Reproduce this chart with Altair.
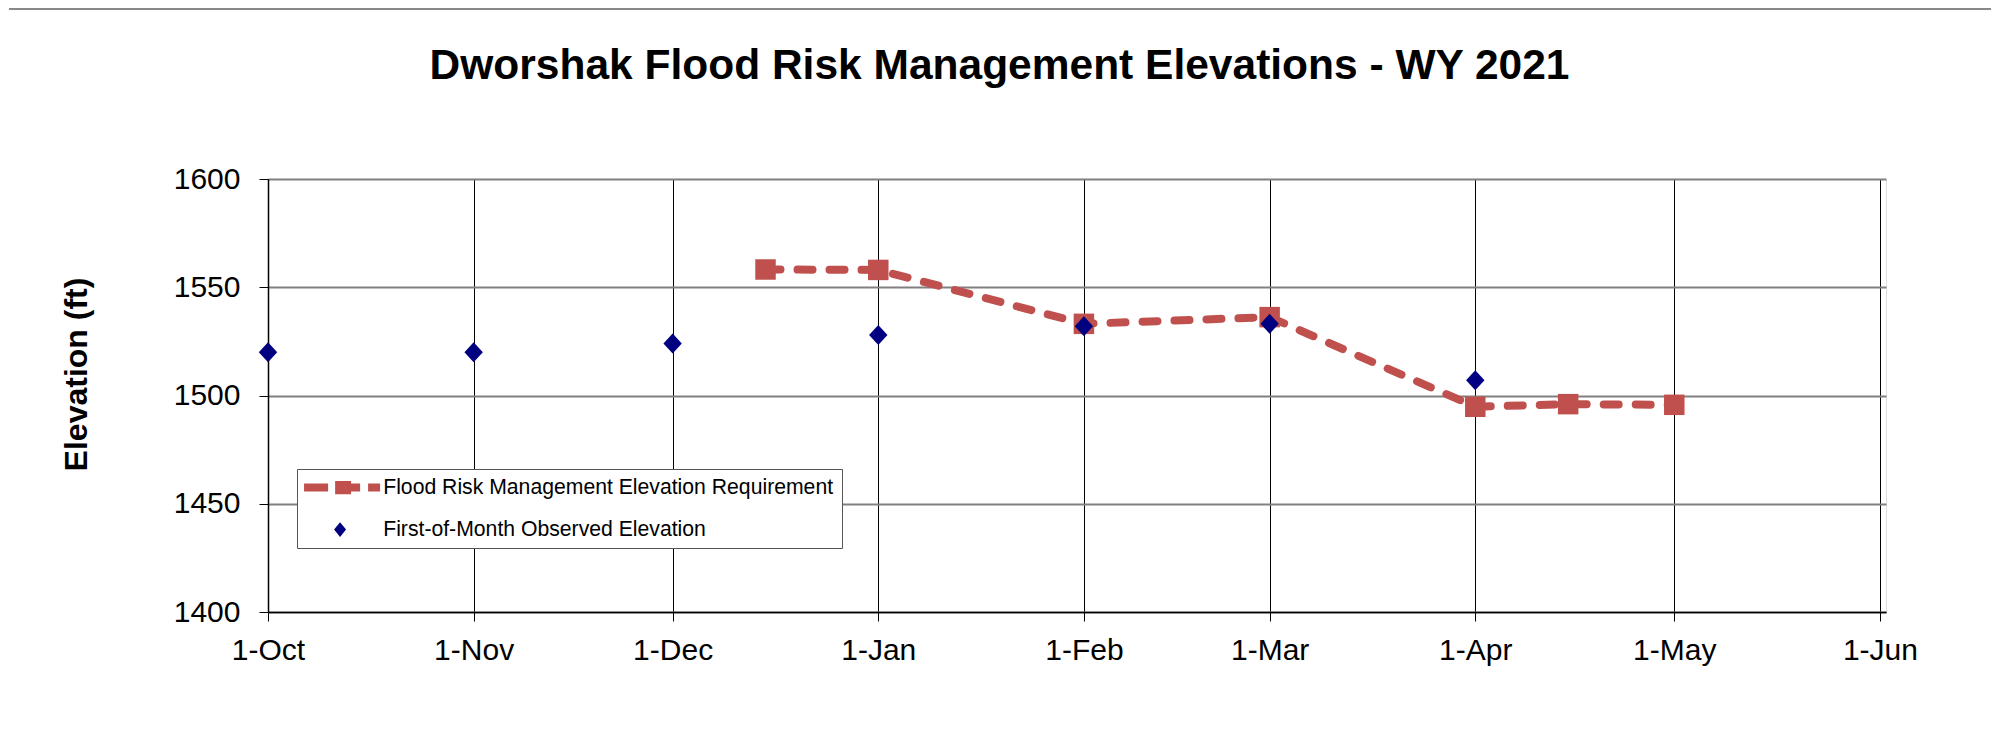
import altair as alt
import pandas as pd

TITLE = "Dworshak Flood Risk Management Elevations - WY 2021"
Y_TITLE = "Elevation (ft)"
FRM_LABEL = "Flood Risk Management Elevation Requirement"
OBS_LABEL = "First-of-Month Observed Elevation"

frm_dates = ["2020-12-15T00:00:00", "2021-01-01T00:00:00", "2021-02-01T00:00:00",
             "2021-03-01T00:00:00", "2021-04-01T00:00:00", "2021-04-15T00:00:00",
             "2021-05-01T00:00:00"]
frm_values = [1558.2, 1558.0, 1533.1, 1536.2, 1494.8, 1496.0, 1495.7]

obs_dates = ["2020-10-01T00:00:00", "2020-11-01T00:00:00", "2020-12-01T00:00:00",
             "2021-01-01T00:00:00", "2021-02-01T00:00:00", "2021-03-01T00:00:00",
             "2021-04-01T00:00:00"]
obs_values = [1520.0, 1520.0, 1524.0, 1528.0, 1532.0, 1533.1, 1507.0]

month_ticks = [(2020, 10), (2020, 11), (2020, 12), (2021, 1), (2021, 2),
               (2021, 3), (2021, 4), (2021, 5), (2021, 6)]
y_ticks = [1400, 1450, 1500, 1550, 1600]
legend_entries = [FRM_LABEL, OBS_LABEL]

FRM_COLOR = "#C0504D"
OBS_COLOR = "#000080"

PLOT_W, PLOT_H = 1618, 433
PAD_L, PAD_T = 260, 171

frm_df = pd.DataFrame({"date": frm_dates, "elev": frm_values})
obs_df = pd.DataFrame({"date": obs_dates, "elev": obs_values})
legend_df = pd.DataFrame({"entry": legend_entries})

x_scale = alt.Scale(domain=[alt.DateTime(year=2020, month=10, date=1),
                            alt.DateTime(year=2021, month=6, date=1, hours=22)])
y_scale = alt.Scale(domain=[1400, 1600], nice=False, zero=False)

x_axis = alt.Axis(
    values=[alt.DateTime(year=y, month=m, date=1) for y, m in month_ticks],
    format="%-d-%b", title=None, labelFont="Liberation Sans", labelFontSize=30,
    labelColor="black", labelPadding=14, tickSize=9, tickColor="black",
    domainColor="black", domainWidth=1.5, grid=True, gridColor="black",
    gridWidth=1, labelFlush=False, labelOverlap=False)
y_axis = alt.Axis(
    values=y_ticks, format="d", title=Y_TITLE, titleFont="Liberation Sans",
    titleFontSize=32, titleFontWeight="bold", titleColor="black", titleAngle=270,
    titleX=-192, titleY=195, titleAlign="center", titleBaseline="middle",
    labelFont="Liberation Sans", labelFontSize=30, labelColor="black",
    labelPadding=19, tickSize=9, tickColor="black", domainColor="black",
    domainWidth=1.5, grid=True, gridColor="#808080", gridWidth=2)

x_enc = alt.X("date:T", scale=x_scale, axis=x_axis)
y_enc = alt.Y("elev:Q", scale=y_scale, axis=y_axis)

# shape used for the observed points in the plot (custom diamond, slightly taller than wide)
PLOT_DIAMOND = "M0,-1L0.92,0L0,1L-0.92,0Z"
# legend symbols (unit = 10.5 px, drawn to the right of the symbol origin)
LEG_FRM = ("M-1.1,-0.38H1.19V0.38H-1.1Z M1.86,-0.64H3.38V0.64H1.86Z "
           "M3.38,-0.38H4.24V0.38H3.38Z M5.0,-0.38H6.14V0.38H5.0Z")
LEG_DIAMOND = "M2.33,-0.71L2.9,0L2.33,0.71L1.76,0Z"

line = alt.Chart(frm_df).mark_line(
    color=FRM_COLOR, strokeWidth=8, strokeDash=[15, 17], strokeCap="round"
).encode(x=x_enc, y=y_enc)

squares = alt.Chart(frm_df).mark_square(
    color=FRM_COLOR, size=420, opacity=1
).encode(x=x_enc, y=y_enc)

points = alt.Chart(obs_df).mark_point(
    filled=True, shape=PLOT_DIAMOND, size=400, color=OBS_COLOR, opacity=1
).encode(x=x_enc, y=y_enc)

leg_kwargs = dict(title=None, orient="none", legendX=29, legendY=290,
                  padding=8, fillColor="white", strokeColor="#555555",
                  labelFont="Liberation Sans", labelFontSize=21.2,
                  labelColor="black", labelOffset=57, rowPadding=20,
                  symbolSize=441, symbolStrokeWidth=0,
                  symbolOpacity=1, labelLimit=0)

legend_layer = alt.Chart(legend_df).mark_point(filled=True, opacity=0).encode(
    color=alt.Color("entry:N",
                    scale=alt.Scale(domain=legend_entries, range=[FRM_COLOR, OBS_COLOR]),
                    legend=alt.Legend(**leg_kwargs)),
    shape=alt.Shape("entry:N",
                    scale=alt.Scale(domain=legend_entries, range=[LEG_FRM, LEG_DIAMOND]),
                    legend=alt.Legend(**leg_kwargs)),
)

title_df = pd.DataFrame({"t": [TITLE]})
title = alt.Chart(title_df).mark_text(
    font="Liberation Sans", fontSize=42.5, fontWeight="bold", color="black",
    align="center", baseline="alphabetic"
).encode(text="t:N", x=alt.value(731.5), y=alt.value(-100))

frame_df = pd.DataFrame({"k": [0]})
top_border = alt.Chart(frame_df).mark_rule(color="#888888", strokeWidth=2).encode(
    x=alt.value(-259), x2=alt.value(1727), y=alt.value(-170))
right_border = alt.Chart(frame_df).mark_rule(color="#555555", strokeWidth=1.5).encode(
    x=alt.value(1727), y=alt.value(-170), y2=alt.value(560))

chart = alt.layer(top_border, right_border, line, squares, points, legend_layer, title).properties(
    width=PLOT_W, height=PLOT_H,
    autosize=alt.AutoSizeParams(type="none"),
    padding={"left": PAD_L, "top": PAD_T, "right": 105, "bottom": 100},
).configure_view(stroke="#888888", strokeWidth=2).configure(background="white")

chart.save("out.html", embed_options={"renderer": "svg", "actions": False})
